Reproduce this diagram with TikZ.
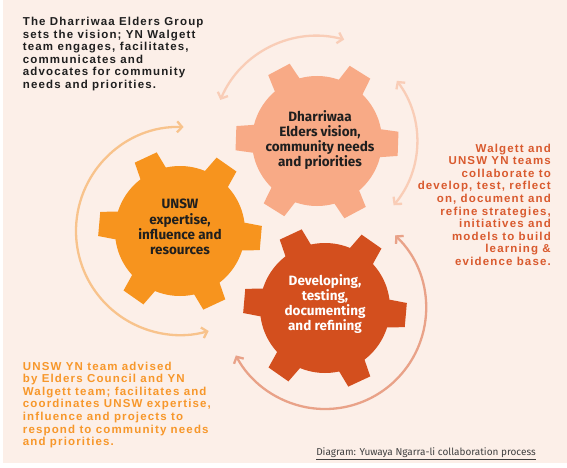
\documentclass[tikz,border=0pt]{standalone}
\usepackage{fontspec}
\setmainfont{Liberation Sans}
\newfontfamily\notefont[LetterSpace=10]{Liberation Sans}
\newfontfamily\gearfont{Fira Sans}
\newfontfamily\capfont{Fira Sans}
\usetikzlibrary{arrows.meta, positioning, calc}
\definecolor{bgpeach}{HTML}{FCEFE8}
\definecolor{elderfill}{HTML}{F8AA86}
\definecolor{unswfill}{HTML}{F7941E}
\definecolor{devfill}{HTML}{D34F1E}
\definecolor{arcpale}{HTML}{F9CDB7}
\definecolor{arcorange}{HTML}{F8C38C}
\definecolor{arcrust}{HTML}{E9A288}
\definecolor{textdark}{HTML}{1F1F1F}
\definecolor{textrust}{HTML}{D95A2E}
\definecolor{textorange}{HTML}{F7972A}
\definecolor{captiongray}{HTML}{404040}

% gear: centre, colour, rotation of the first tooth
\newcommand{\gearshape}[3]{%
  \fill[#2] (#1) circle[radius=65];
  \foreach \tooth in {0,60,...,300}{%
    \fill[#2] ($(#1)+(#3+\tooth-14:60)$) -- ($(#1)+(#3+\tooth-8.5:82)$)
      -- ($(#1)+(#3+\tooth+8.5:82)$) -- ($(#1)+(#3+\tooth+14:60)$) -- cycle;
  }}

\begin{document}
\begin{tikzpicture}[
    x=1pt, y=1pt,
    note/.style={
        font=\notefont\bfseries\fontsize{11.5}{12.6}\selectfont,
        inner sep=0pt
    },
    gearlabel/.style={
        font=\gearfont\bfseries\fontsize{13.5}{15.2}\selectfont,
        align=center,
        inner sep=0pt,
        text=textdark
    },
    arr/.style={
        {Straight Barb[length=5pt, width=11pt]}-{Straight Barb[length=5pt, width=11pt]},
        line width=2.3pt
    }
]
\useasboundingbox (0,0) rectangle (567,467);
\fill[white] (0,0) rectangle (567,467);
\fill[bgpeach] (3,4) rectangle (567,467);

% Gear centres
\coordinate (c1) at (317,326);
\coordinate (c2) at (180,236);
\coordinate (c3) at (325,159);

% Gears
\gearshape{c1}{elderfill}{-2}
\gearshape{c2}{unswfill}{-5}
\gearshape{c3}{devfill}{-5}

% Arrows
\draw[arr, arcpale] ($(c1)+(75:105)$) arc[start angle=75, end angle=157, radius=105];
\draw[arr, arcpale] ($(c1)+(-40:100)$) arc[start angle=-40, end angle=37, radius=100];
\draw[arr, arcorange] ($(c2)+(88:104)$) arc[start angle=88, end angle=286, radius=104];
\draw[arr, arcrust] ($(c3)+(46:101)$) arc[start angle=46, end angle=-152, radius=101];

% Nodes
\node[gearlabel] (elders) at ($(c1)+(3,1)$) {Dharriwaa\\Elders vision,\\community needs\\and priorities};
\node[gearlabel] (unsw) at ($(c2)+(0,4)$) {UNSW\\expertise,\\influence and\\resources};
\node[gearlabel, text=white] (dev) at ($(c3)+(0,4)$) {Developing,\\testing,\\documenting\\and refining};

\node[note, text=textdark, anchor=north west, align=left] (visionnote) at (22.7,450)
    {The Dharriwaa Elders Group\\sets the vision; YN Walgett\\team engages, facilitates,\\communicates and\\advocates for community\\needs and priorities.};

\node[note, text=textrust, anchor=north east, align=right] (teamnote) at (551,323.5)
    {Walgett and\\UNSW YN teams\\collaborate to\\develop, test, reflect\\on, document and\\refine strategies,\\initiatives and\\models to build\\learning \&\\evidence base.};

\node[note, text=textorange, anchor=north west, align=left] (unswnote) at (22.7,105.5)
    {UNSW YN team advised\\by Elders Council and YN\\Walgett team; facilitates and\\coordinates UNSW expertise,\\influence and projects to\\respond to community needs\\and priorities.};

\node[font=\capfont\fontsize{10}{12}\selectfont, text=captiongray, inner sep=0pt] (caption) at (426,13)
    {\underline{Diagram: Yuwaya Ngarra-li collaboration process}};

\end{tikzpicture}
\end{document}
